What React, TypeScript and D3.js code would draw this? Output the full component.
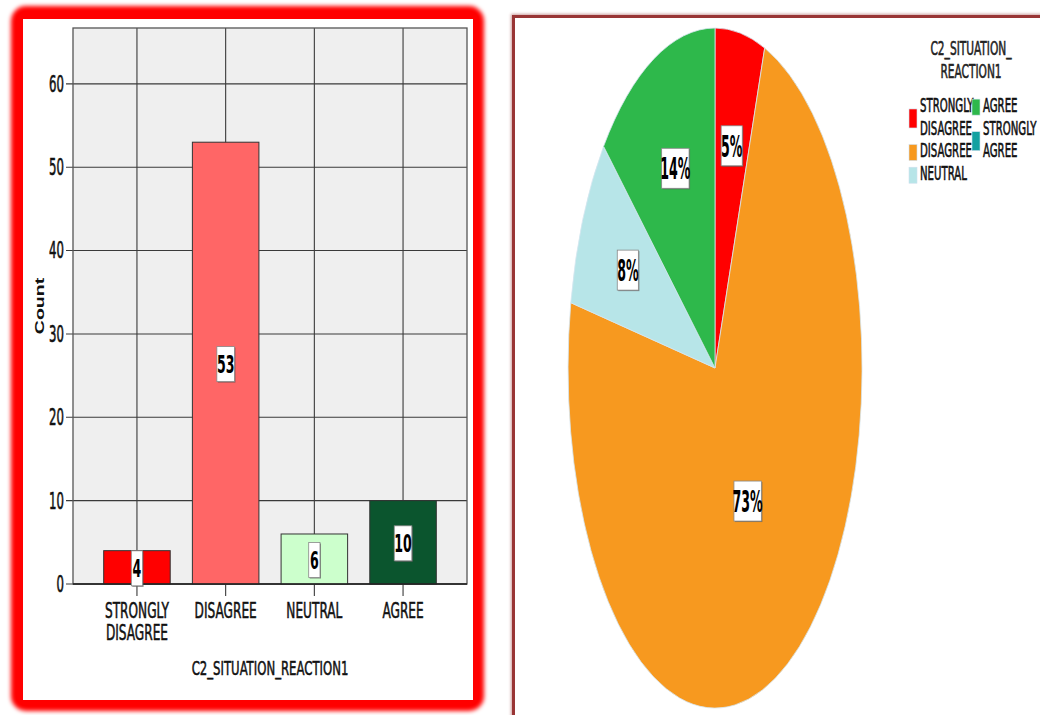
import React from "react";
import * as d3 from "d3";

const categories = ["STRONGLY DISAGREE", "DISAGREE", "NEUTRAL", "AGREE"];
const counts = [4, 53, 6, 10];
const barColors = ["#ff0000", "#ff6666", "#ccffcc", "#0b552e"];
const yTicks = [0, 10, 20, 30, 40, 50, 60];

const pieCategories = ["STRONGLY DISAGREE", "DISAGREE", "NEUTRAL", "AGREE", "STRONGLY AGREE"];
const pieCounts = [4, 53, 6, 10, 0];
const pieColors = ["#ff0000", "#f7991f", "#b7e5e8", "#2eb84b", "#13a1a1"];

const NARROW = "'Liberation Sans Narrow', 'Arial Narrow', 'DejaVu Sans Condensed', sans-serif";
const CAP = 0.716;

type STProps = {
  x: number; y: number; text: string; size: number; sy: number;
  anchor?: string; weight?: string | number; fill?: string; family?: string; sw?: number;
};
function ST({ x, y, text, size, sy, anchor = "middle", weight = "normal", fill = "#111", family = NARROW, sw = 0.35 }: STProps) {
  return (
    <text
      transform={`translate(${x},${y}) scale(1,${sy})`}
      fontSize={size}
      fontFamily={family}
      fontWeight={weight}
      textAnchor={anchor}
      fill={fill}
      stroke={fill}
      strokeWidth={sw}
    >
      {text}
    </text>
  );
}

function LabelBox({ cx, cy, text, size, sy, h }: { cx: number; cy: number; text: string; size: number; sy: number; h: number }) {
  const w = text.length * size * 0.45 + (text.includes("%") ? size * 0.25 : 0) + 5;
  const base = cy + (CAP * size * sy) / 2;
  return (
    <g>
      <rect x={cx - w / 2 + 1} y={cy - h / 2 + 1} width={w} height={h} fill="#555" opacity={0.7} />
      <rect x={cx - w / 2} y={cy - h / 2} width={w} height={h} fill="#fff" stroke="#888" strokeWidth={0.8} />
      <ST x={cx} y={base} text={text} size={size} sy={sy} weight="bold" fill="#000" sw={0} />
    </g>
  );
}

export default function App() {
  // ---------- bar chart ----------
  const pl = { left: 73, right: 467, top: 28, bottom: 584 };
  const x = d3.scaleBand<string>().domain(categories).range([pl.left, pl.right]).paddingInner(0.25).paddingOuter(0.346);
  const y = d3.scaleLinear().domain([0, 66.7]).range([pl.bottom, pl.top]);
  const gridColor = "#3a3a3a";

  // ---------- pie ----------
  const cx = 715, cy = 368, rx = 147, ry = 340;
  const total = d3.sum(pieCounts);
  const arcs = d3.pie<number>().sort(null).value((d) => d)(pieCounts);
  const arcGen = d3.arc<d3.PieArcDatum<number>>().innerRadius(0).outerRadius(1);

  const legendLineH = 22.7;
  const legendTop = 112;

  return (
    <svg width={1040} height={715} style={{ position: "absolute", left: 0, top: 0, background: "#fff" }}>
      <defs>
        <filter id="glow" x="-10%" y="-10%" width="120%" height="120%">
          <feGaussianBlur stdDeviation="2.2" />
        </filter>
        <filter id="soft" x="-10%" y="-10%" width="120%" height="120%">
          <feGaussianBlur stdDeviation="1.5" />
        </filter>
      </defs>

      {/* Left panel frame */}
      <rect x={11} y={6} width={473} height={705} rx={15} fill="#ff0000" filter="url(#glow)" />
      <rect x={16} y={11} width={463} height={695} rx={10} fill="#ff0000" />
      <rect x={23} y={19} width={450} height={681} fill="#fff" />

      {/* plot background */}
      <rect x={pl.left} y={pl.top} width={pl.right - pl.left} height={pl.bottom - pl.top} fill="#efefef" />

      {/* horizontal grid */}
      {yTicks.map((t) => (
        <g key={"yt" + t}>
          <line x1={pl.left - 7} x2={pl.right} y1={y(t)} y2={y(t)} stroke={gridColor} strokeWidth={1.1} />
          <ST x={64} y={y(t) + (CAP * 13 * 1.7) / 2} text={String(t)} size={13} sy={1.7} anchor="end" />
        </g>
      ))}
      {/* vertical grid */}
      {categories.map((c) => {
        const xc = (x(c) as number) + x.bandwidth() / 2;
        return (
          <line key={"vg" + c} x1={xc} x2={xc} y1={pl.top} y2={pl.bottom + 12} stroke={gridColor} strokeWidth={1.1} />
        );
      })}
      {/* plot border */}
      <rect x={pl.left} y={pl.top} width={pl.right - pl.left} height={pl.bottom - pl.top} fill="none" stroke="#555" strokeWidth={1.3} />

      {/* bars */}
      {categories.map((c, i) => (
        <rect
          key={"bar" + c}
          x={x(c)}
          y={y(counts[i])}
          width={x.bandwidth()}
          height={y(0) - y(counts[i])}
          fill={barColors[i]}
          stroke="#333"
          strokeWidth={1}
        />
      ))}
      <line x1={pl.left} x2={pl.right} y1={y(0)} y2={y(0)} stroke="#222" strokeWidth={1.5} />

      {/* bar labels */}
      {categories.map((c, i) => (
        <LabelBox
          key={"bl" + c}
          cx={(x(c) as number) + x.bandwidth() / 2}
          cy={(y(0) + y(counts[i])) / 2 + 1}
          text={String(counts[i])}
          size={14}
          sy={1.8}
          h={35}
        />
      ))}

      {/* category tick labels */}
      {categories.map((c) => {
        const xc = (x(c) as number) + x.bandwidth() / 2;
        const words = c.split(" ");
        return (
          <g key={"cl" + c}>
            {words.map((w, j) => (
              <ST key={w} x={xc} y={618 + j * 22} text={w} size={13.5} sy={1.55} />
            ))}
          </g>
        );
      })}

      {/* axis titles */}
      <ST x={(pl.left + pl.right) / 2} y={675} text="C2_SITUATION_REACTION1" size={13} sy={1.5} />
      <text
        transform={`translate(44,306) rotate(-90) scale(1.5,1)`}
        fontSize={13}
        fontFamily="'Liberation Sans', Arial, sans-serif"
        fontWeight="bold"
        textAnchor="middle"
        fill="#111"
      >
        Count
      </text>

      {/* Right panel frame */}
      <rect x={513.5} y={16.5} width={700} height={800} fill="none" stroke="#9a3b3b" strokeWidth={5} opacity={0.5} filter="url(#soft)" />
      <rect x={513.5} y={16.5} width={700} height={800} fill="#fff" stroke="#993535" strokeWidth={3} />

      {/* pie */}
      <g transform={`translate(${cx},${cy}) scale(${rx},${ry})`}>
        {arcs.map((a, i) =>
          a.endAngle > a.startAngle ? (
            <path
              key={"arc" + i}
              d={arcGen(a) as string}
              fill={pieColors[i]}
              stroke="#d6e6f0"
              strokeWidth={0.8}
              vectorEffect="non-scaling-stroke"
            />
          ) : null
        )}
      </g>
      {arcs.map((a, i) => {
        const alpha = a.endAngle - a.startAngle;
        if (alpha <= 0) return null;
        const rc = Math.max(0.45, (4 * Math.sin(alpha / 2)) / (3 * alpha));
        const mid = (a.startAngle + a.endAngle) / 2;
        const lx = cx + Math.sin(mid) * rc * rx;
        const ly = cy - Math.cos(mid) * rc * ry;
        const pct = Math.round((pieCounts[i] / total) * 100) + "%";
        return <LabelBox key={"pl" + i} cx={lx} cy={ly} text={pct} size={14} sy={2.2} h={40} />;
      })}

      {/* legend */}
      <ST x={971} y={55} text="C2_SITUATION_" size={11.8} sy={1.6} fill="#222" />
      <ST x={971} y={78} text="REACTION1" size={11.8} sy={1.6} fill="#222" />
      {(() => {
        const cols = [pieCategories.slice(0, 3), pieCategories.slice(3)];
        const colX = [909, 972];
        return cols.map((col, ci) => {
          let line = 0;
          return col.map((cat) => {
            const idx = pieCategories.indexOf(cat);
            const words = cat.split(" ");
            const startLine = line;
            line += words.length;
            const firstBase = legendTop + startLine * legendLineH;
            const lastBase = firstBase + (words.length - 1) * legendLineH;
            const center = (firstBase + lastBase) / 2 - (CAP * 11.3 * 1.7) / 2;
            const sh = words.length > 1 ? 19 : 16;
            return (
              <g key={"lg" + cat}>
                <rect x={colX[ci]} y={center - sh / 2 + 2} width={8} height={sh} fill={pieColors[idx]} stroke="#cfe0ee" strokeWidth={0.6} />
                {words.map((w, j) => (
                  <ST key={w + j} x={colX[ci] + 11} y={firstBase + j * legendLineH} text={w} size={11.3} sy={1.7} anchor="start" fill="#111" />
                ))}
              </g>
            );
          });
        });
      })()}
    </svg>
  );
}
